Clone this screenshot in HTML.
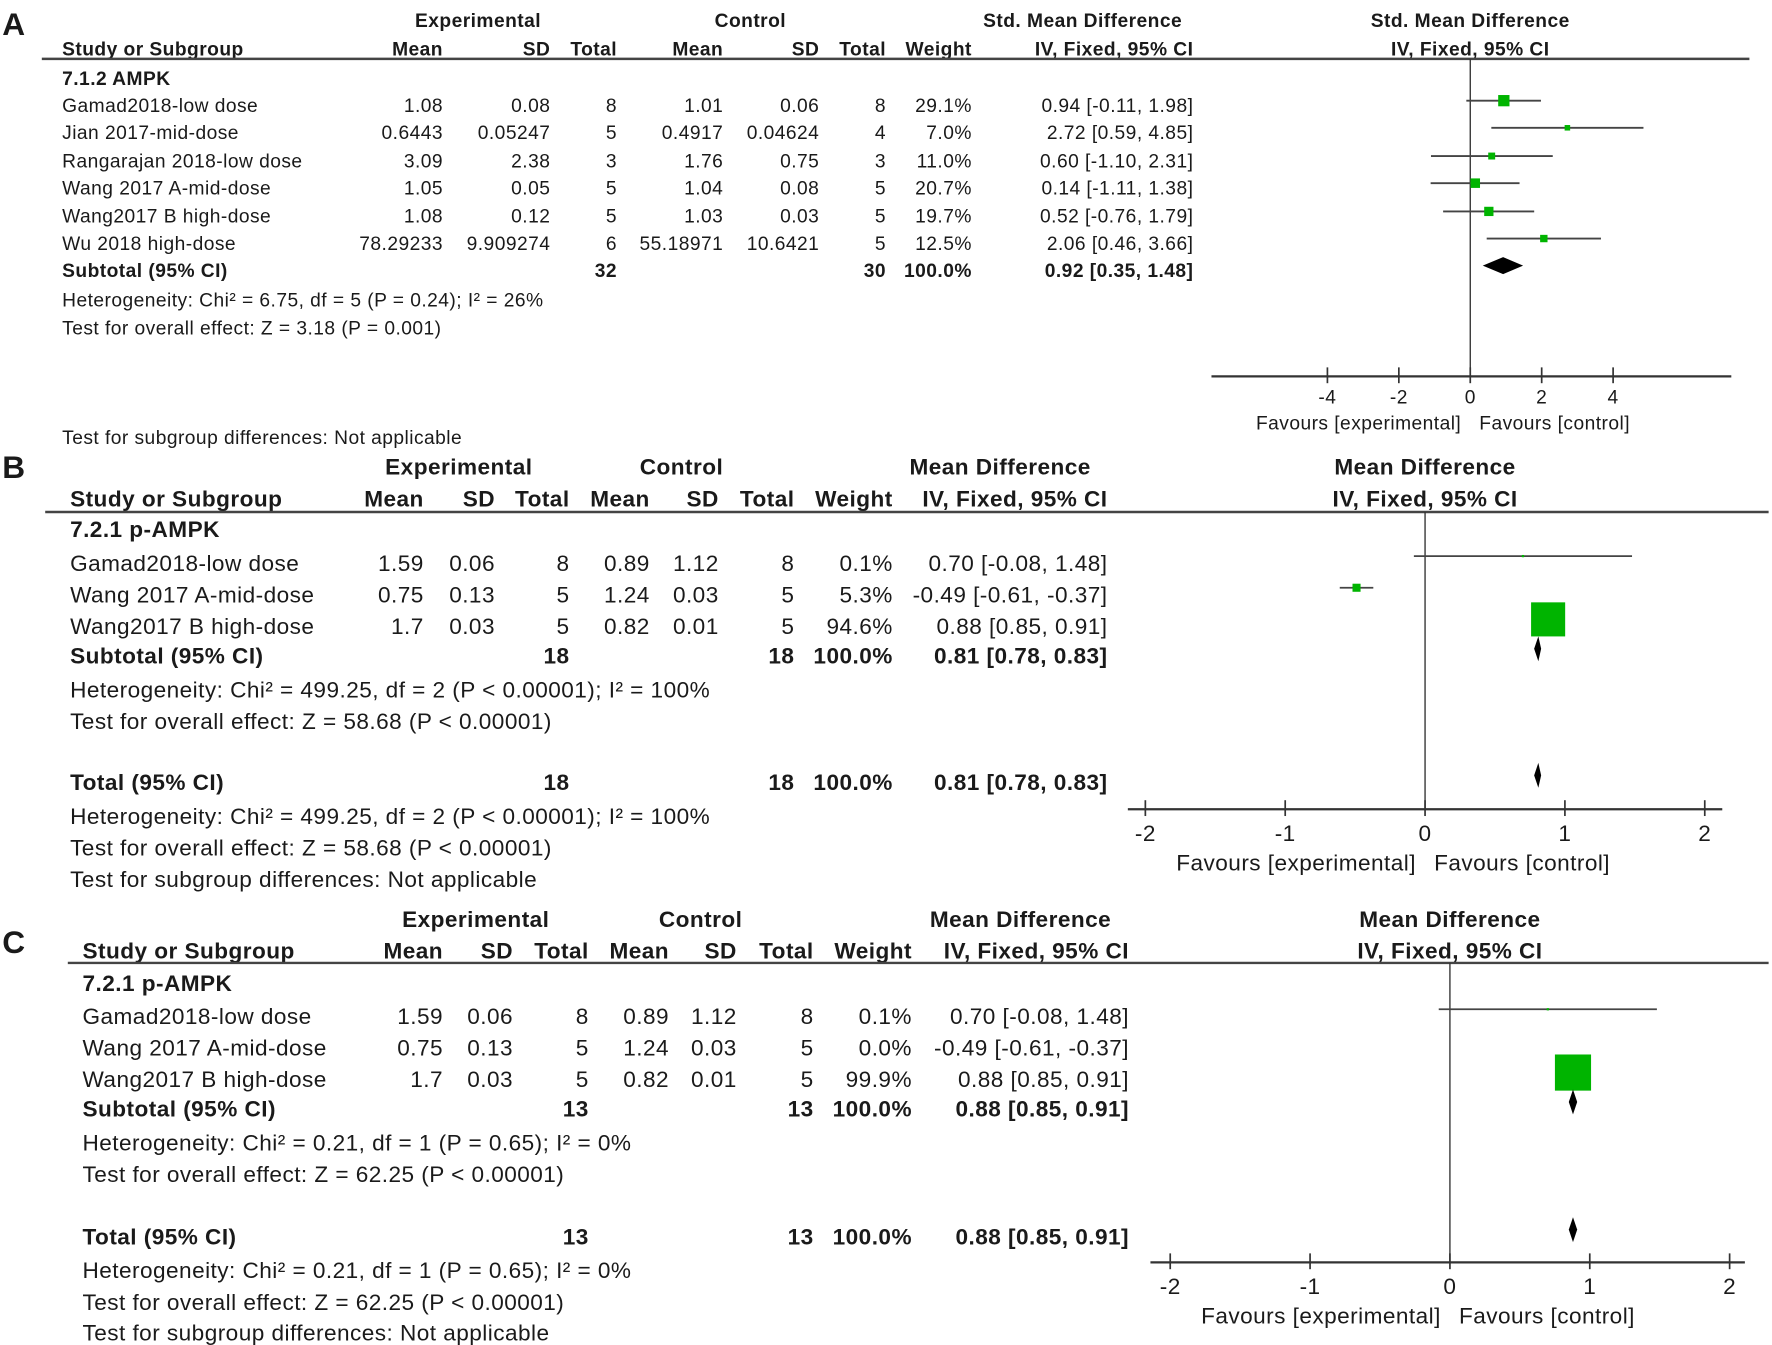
<!DOCTYPE html>
<html><head><meta charset="utf-8"><style>
html,body{margin:0;padding:0;background:#fff;}
svg{display:block;}
text{font-family:"Liberation Sans",Arial,sans-serif;fill:#1a1a1a;}
</style></head>
<body>
<svg id="fig" xmlns="http://www.w3.org/2000/svg" width="1772" height="1345" viewBox="0 0 1568 1190"></svg>
<script>
// ---------- Panel A data ----------
const aStudies = ["Gamad2018-low dose","Jian 2017-mid-dose","Rangarajan 2018-low dose","Wang 2017 A-mid-dose","Wang2017 B high-dose","Wu 2018 high-dose"];
const aExpMean = ["1.08","0.6443","3.09","1.05","1.08","78.29233"];
const aExpSD = ["0.08","0.05247","2.38","0.05","0.12","9.909274"];
const aExpN = ["8","5","3","5","5","6"];
const aCtlMean = ["1.01","0.4917","1.76","1.04","1.03","55.18971"];
const aCtlSD = ["0.06","0.04624","0.75","0.08","0.03","10.6421"];
const aCtlN = ["8","4","3","5","5","5"];
const aWeight = [29.1,7.0,11.0,20.7,19.7,12.5];
const aEst = [0.94,2.72,0.60,0.14,0.52,2.06];
const aLo = [-0.11,0.59,-1.10,-1.11,-0.76,0.46];
const aHi = [1.98,4.85,2.31,1.38,1.79,3.66];
const aPooled = [0.92,0.35,1.48];
const aTotals = [32,30];
const aTicks = [-4,-2,0,2,4];
// ---------- Panel B data ----------
const bStudies = ["Gamad2018-low dose","Wang 2017 A-mid-dose","Wang2017 B high-dose"];
const bExpMean = ["1.59","0.75","1.7"];
const bExpSD = ["0.06","0.13","0.03"];
const bExpN = ["8","5","5"];
const bCtlMean = ["0.89","1.24","0.82"];
const bCtlSD = ["1.12","0.03","0.01"];
const bCtlN = ["8","5","5"];
const bWeight = [0.1,5.3,94.6];
const bEst = [0.70,-0.49,0.88];
const bLo = [-0.08,-0.61,0.85];
const bHi = [1.48,-0.37,0.91];
const bPooled = [0.81,0.78,0.83];
const bTotals = [18,18];
const bTicks = [-2,-1,0,1,2];
// ---------- Panel C data ----------
const cStudies = ["Gamad2018-low dose","Wang 2017 A-mid-dose","Wang2017 B high-dose"];
const cExpMean = ["1.59","0.75","1.7"];
const cExpSD = ["0.06","0.13","0.03"];
const cExpN = ["8","5","5"];
const cCtlMean = ["0.89","1.24","0.82"];
const cCtlSD = ["1.12","0.03","0.01"];
const cCtlN = ["8","5","5"];
const cWeight = [0.1,0.0,99.9];
const cEst = [0.70,-0.49,0.88];
const cLo = [-0.08,-0.61,0.85];
const cHi = [1.48,-0.37,0.91];
const cPooled = [0.88,0.85,0.91];
const cTotals = [13,13];
const cTicks = [-2,-1,0,1,2];

const NS="http://www.w3.org/2000/svg";
const svg=document.getElementById('fig');
function el(tag,attrs,parent){const e=document.createElementNS(NS,tag);for(const k in attrs)e.setAttribute(k,attrs[k]);(parent||svg).appendChild(e);return e;}
let LS=0;
function txt(s,x,y,fs,anchor,bold,parent,name){
  const t=el('text',{x:x,y:y,'font-size':fs,'text-anchor':anchor||'start','font-weight':bold?'bold':'normal','letter-spacing':LS},parent);
  t.textContent=s;
  
  
  return t;
}
function fmtCI(e,l,h){return e.toFixed(2)+" ["+l.toFixed(2)+", "+h.toFixed(2)+"]";}

function panel(P,D){
  const g=el('g',{});
  
  
  const fs=P.fs;
  LS=0;
  txt(P.letter,P.letterX,P.letterY,28,'start',true,g,'panel-letter');
  LS=P.ls;
  txt("Experimental",P.expC,P.h1,fs,'middle',true,g,'experimental-header');
  txt("Control",P.ctlC,P.h1,fs,'middle',true,g,'control-header');
  txt(P.measure,P.ciHeadC,P.h1,fs,'middle',true,g,'effect-header');
  txt(P.measure,P.zero,P.h1,fs,'middle',true,g,'plot-header');
  const h2=[["Study or Subgroup",P.studyX,'start'],["Mean",P.cols[0],'end'],["SD",P.cols[1],'end'],["Total",P.cols[2],'end'],["Mean",P.cols[3],'end'],["SD",P.cols[4],'end'],["Total",P.cols[5],'end'],["Weight",P.cols[6],'end'],["IV, Fixed, 95% CI",P.cols[7],'end'],["IV, Fixed, 95% CI",P.zero,'middle']];
  h2.forEach(h=>txt(h[0],h[1],P.h2,fs,h[2],true,g,'column-header'));
  el('line',{x1:P.lineX1,x2:P.lineX2,y1:P.hl,y2:P.hl,stroke:'#444','stroke-width':2.2},g);
  txt(P.group,P.studyX,P.grpY,fs,'start',true,g,'subgroup-title');
  const sx=v=>P.zero+v*P.unit;
  el('line',{x1:P.zero,x2:P.zero,y1:P.hl,y2:P.axY,stroke:'#333','stroke-width':1.2},g);
  el('line',{x1:P.axX1,x2:P.axX2,y1:P.axY,y2:P.axY,stroke:'#333','stroke-width':2},g);
  D.ticks.forEach(t=>{
    const l=el('line',{x1:sx(t),x2:sx(t),y1:P.axY-8,y2:P.axY+6,stroke:'#333','stroke-width':1.5},g);
    
    txt(t<0?("-"+Math.abs(t)):String(t),sx(t),P.axY+P.tickDy,fs,'middle',false,g,'x-tick-label');
  });
  txt("Favours [experimental]",P.zero-8,P.favY,fs,'end',false,g,'favours-experimental');
  txt("Favours [control]",P.zero+8,P.favY,fs,'start',false,g,'favours-control');
  D.studies.forEach((s,i)=>{
    const y=P.rows[i];
    txt(s,P.studyX,y,fs,'start',false,g,'study-name');
    const vals=[D.em[i],D.esd[i],D.en[i],D.cm[i],D.csd[i],D.cn[i],D.w[i].toFixed(1)+"%",fmtCI(D.est[i],D.lo[i],D.hi[i])];
    vals.forEach((v,j)=>txt(v,P.cols[j],y,fs,'end',false,g,'cell-value'));
    if(D.w[i]<=0) return;
    const cy=y-P.markDy;
    const ln=el('line',{x1:sx(D.lo[i]),x2:sx(D.hi[i]),y1:cy,y2:cy,stroke:'#444','stroke-width':1.6},g);
    
    const sz=Math.max(P.boxK*Math.sqrt(D.w[i]),2);
    const r=el('rect',{x:sx(D.est[i])-sz/2,y:cy-sz/2,width:sz,height:sz,fill:'#00b400'},g);
    
    
  });
  function diamond(y,name){
    const cy=y-P.markDy, hh=P.dh/2;
    const p=el('polygon',{points:[sx(D.pooled[1])+','+cy, sx(D.pooled[0])+','+(cy-hh), sx(D.pooled[2])+','+cy, sx(D.pooled[0])+','+(cy+hh)].join(' '),fill:'#000'},g);
    
    
  }
  const nE=D.totals[0], nC=D.totals[1];
  const pooledTxt=fmtCI(D.pooled[0],D.pooled[1],D.pooled[2]);
  txt("Subtotal (95% CI)",P.studyX,P.subY,fs,'start',true,g,'subtotal-label');
  txt(String(nE),P.cols[2],P.subY,fs,'end',true,g,'cell-value');
  txt(String(nC),P.cols[5],P.subY,fs,'end',true,g,'cell-value');
  txt("100.0%",P.cols[6],P.subY,fs,'end',true,g,'cell-value');
  txt(pooledTxt,P.cols[7],P.subY,fs,'end',true,g,'cell-value');
  diamond(P.subY,'subtotal-diamond');
  txt(P.het,P.studyX,P.hetY,fs,'start',false,g,'heterogeneity');
  txt(P.test,P.studyX,P.testY,fs,'start',false,g,'overall-effect');
  if(P.totY){
    txt("Total (95% CI)",P.studyX,P.totY,fs,'start',true,g,'total-label');
    txt(String(nE),P.cols[2],P.totY,fs,'end',true,g,'cell-value');
    txt(String(nC),P.cols[5],P.totY,fs,'end',true,g,'cell-value');
    txt("100.0%",P.cols[6],P.totY,fs,'end',true,g,'cell-value');
    txt(pooledTxt,P.cols[7],P.totY,fs,'end',true,g,'cell-value');
    diamond(P.totY,'total-diamond');
    txt(P.het,P.studyX,P.totY+30,fs,'start',false,g,'heterogeneity');
    txt(P.test,P.studyX,P.totY+58,fs,'start',false,g,'overall-effect');
  }
  txt("Test for subgroup differences: Not applicable",P.studyX,P.sgY,fs,'start',false,g,'subgroup-differences');
}

panel({name:'panel-a',letter:'A',letterX:2,letterY:31,fs:17,ls:0.4,expC:423,ctlC:664,ciHeadC:958,measure:'Std. Mean Difference',
  h1:24,h2:49,studyX:55,cols:[392,487,546,640,725,784,860,1056],lineX1:37,lineX2:1548,hl:52,grpY:75,
  rows:[99,123,148,172,197,221],subY:245,hetY:271,testY:296,sgY:393,zero:1301,unit:31.6,axY:333,axX1:1072,axX2:1532,tickDy:24,favY:380,
  markDy:10,boxK:1.85,dh:15,group:'7.1.2 AMPK',het:'Heterogeneity: Chi² = 6.75, df = 5 (P = 0.24); I² = 26%',test:'Test for overall effect: Z = 3.18 (P = 0.001)'},
  {studies:aStudies,em:aExpMean,esd:aExpSD,en:aExpN,cm:aCtlMean,csd:aCtlSD,cn:aCtlN,w:aWeight,est:aEst,lo:aLo,hi:aHi,pooled:aPooled,totals:aTotals,ticks:aTicks});

panel({name:'panel-b',letter:'B',letterX:2,letterY:423,fs:20,ls:0.4,expC:406,ctlC:603,ciHeadC:885,measure:'Mean Difference',
  h1:420,h2:448,studyX:62,cols:[375,438,504,575,636,703,790,980],lineX1:40,lineX2:1565,hl:453,grpY:475,
  rows:[505,533,561],subY:587,hetY:617,testY:645,totY:699,sgY:785,zero:1261,unit:123.75,axY:716,axX1:998,axX2:1524,tickDy:28,favY:770,
  markDy:13,boxK:3.1,dh:22,group:'7.2.1 p-AMPK',het:'Heterogeneity: Chi² = 499.25, df = 2 (P < 0.00001); I² = 100%',test:'Test for overall effect: Z = 58.68 (P < 0.00001)'},
  {studies:bStudies,em:bExpMean,esd:bExpSD,en:bExpN,cm:bCtlMean,csd:bCtlSD,cn:bCtlN,w:bWeight,est:bEst,lo:bLo,hi:bHi,pooled:bPooled,totals:bTotals,ticks:bTicks});

panel({name:'panel-c',letter:'C',letterX:2,letterY:843,fs:20,ls:0.4,expC:421,ctlC:620,ciHeadC:903,measure:'Mean Difference',
  h1:820,h2:848,studyX:73,cols:[392,454,521,592,652,720,807,999],lineX1:60,lineX2:1565,hl:852,grpY:877,
  rows:[906,934,962],subY:988,hetY:1018,testY:1046,totY:1101,sgY:1186,zero:1283,unit:123.75,axY:1117,axX1:1018,axX2:1544,tickDy:28,favY:1171,
  markDy:13,boxK:3.2,dh:22,group:'7.2.1 p-AMPK',het:'Heterogeneity: Chi² = 0.21, df = 1 (P = 0.65); I² = 0%',test:'Test for overall effect: Z = 62.25 (P < 0.00001)'},
  {studies:cStudies,em:cExpMean,esd:cExpSD,en:cExpN,cm:cCtlMean,csd:cCtlSD,cn:cCtlN,w:cWeight,est:cEst,lo:cLo,hi:cHi,pooled:cPooled,totals:cTotals,ticks:cTicks});
</script>
</body></html>
